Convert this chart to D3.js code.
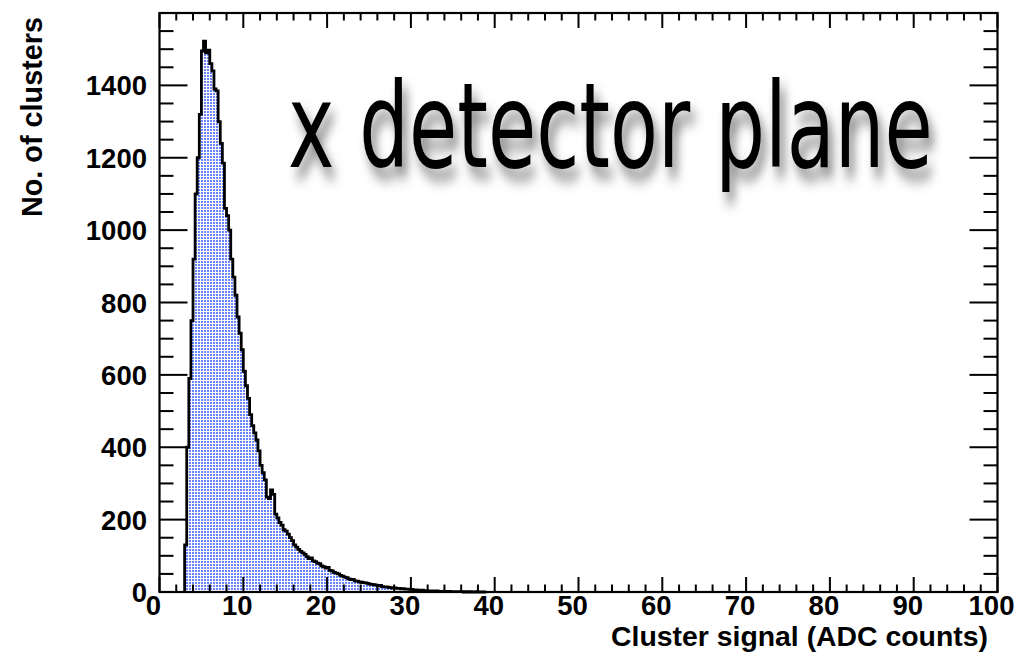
<!DOCTYPE html>
<html>
<head>
<meta charset="utf-8">
<script src="https://cdn.jsdelivr.net/npm/d3@7"></script>
<style>
  html, body { margin: 0; padding: 0; background: #ffffff; }
  svg { display: block; }
</style>
</head>
<body>
<svg id="chart" width="1017" height="662"></svg>
<script>
// ---------------- data ----------------
const binLowEdge = 3.0;      // first filled bin (ADC counts)
const binWidth = 0.25;       // bin width (ADC counts)
const counts = [
  130, 400, 590, 750, 920, 1100, 1200, 1320, 1495, 1522, 1490, 1497, 1460, 1440, 1390, 1385,
  1300, 1240, 1185, 1060, 1040, 1000, 920, 870, 820, 760, 715, 670, 610, 570, 535, 490,
  460, 440, 420, 390, 350, 330, 310, 262, 258, 282, 270, 215, 205, 192, 185, 172,
  168, 160, 150, 142, 130, 124, 118, 112, 108, 104, 98, 92, 94, 86, 84, 80,
  78, 72, 70, 66, 68, 60, 58, 54, 52, 50, 46, 44, 41, 40, 36, 34,
  35, 31, 30, 28, 27, 26, 25, 24, 22, 21, 20, 19, 17, 18, 15, 14,
  14, 13, 12, 11, 11, 10, 10, 9, 9, 8, 8, 7, 7, 6, 6, 5,
  5, 5, 4, 4, 3, 3, 3, 2, 3, 2, 2, 2, 2, 1, 2, 1,
  1, 1, 1, 1, 1, 0, 1, 0, 1, 0, 0, 1, 0, 0, 0, 0
];
const xMajorTicks = [0, 10, 20, 30, 40, 50, 60, 70, 80, 90, 100];
const yMajorTicks = [0, 200, 400, 600, 800, 1000, 1200, 1400];
const xDomain = [0, 100];
const yDomain = [0, 1600];
const xTitle = "Cluster signal (ADC counts)";
const yTitle = "No. of clusters";
const plotTitle = "x detector plane";

// ---------------- layout ----------------
const frame = { left: 159.5, right: 997.5, top: 13, bottom: 592 };
const svg = d3.select("#chart");
const x = d3.scaleLinear().domain(xDomain).range([frame.left, frame.right]);
const y = d3.scaleLinear().domain(yDomain).range([frame.bottom, frame.top]);

const defs = svg.append("defs");
const pat = defs.append("pattern")
  .attr("id", "dots").attr("patternUnits", "userSpaceOnUse")
  .attr("width", 3).attr("height", 3);
pat.append("rect").attr("width", 3).attr("height", 3).attr("fill", "#ffffff");
pat.append("rect").attr("width", 2).attr("height", 2).attr("fill", "#6a84ff");

const shadow = defs.append("filter").attr("id", "shadow")
  .attr("x", "-10%").attr("y", "-30%").attr("width", "130%").attr("height", "180%");
shadow.append("feDropShadow")
  .attr("dx", 7).attr("dy", 11).attr("stdDeviation", 7)
  .attr("flood-color", "#000").attr("flood-opacity", 0.5);

// ---------------- histogram ----------------
const pts = [{ x: binLowEdge, c: 0 }];
counts.forEach((c, i) => pts.push({ x: binLowEdge + i * binWidth, c }));
pts.push({ x: binLowEdge + counts.length * binWidth, c: 0 });

const area = d3.area()
  .x(d => x(d.x)).y0(y(0)).y1(d => y(d.c))
  .curve(d3.curveStepAfter);
const line = d3.line()
  .x(d => x(d.x)).y(d => y(d.c))
  .curve(d3.curveStepAfter);

svg.append("path").datum(pts).attr("d", area).attr("fill", "url(#dots)");
svg.append("path").datum(pts).attr("d", line)
  .attr("fill", "none").attr("stroke", "#000").attr("stroke-width", 2.8)
  .attr("stroke-linejoin", "miter");

// ---------------- axes ----------------
const font = "'Liberation Sans', Arial, Helvetica, sans-serif";
const xMinor = d3.range(0, 101, 2);
const yMinor = d3.range(0, 1601, 50);
const tickG = svg.append("g").attr("stroke", "#000").attr("stroke-width", 2);

// bottom & top
xMinor.forEach(v => {
  const major = v % 10 === 0;
  const len = major ? 15 : 7.5;
  tickG.append("line").attr("x1", x(v)).attr("x2", x(v))
    .attr("y1", frame.bottom).attr("y2", frame.bottom - len);
  tickG.append("line").attr("x1", x(v)).attr("x2", x(v))
    .attr("y1", frame.top).attr("y2", frame.top + len);
});
// left & right
yMinor.forEach(v => {
  if (y(v) < frame.top - 0.5) return;
  const major = v % 200 === 0;
  const len = major ? 28 : 14;
  tickG.append("line").attr("y1", y(v)).attr("y2", y(v))
    .attr("x1", frame.left).attr("x2", frame.left + len);
  tickG.append("line").attr("y1", y(v)).attr("y2", y(v))
    .attr("x1", frame.right).attr("x2", frame.right - len);
});

// frame
svg.append("rect")
  .attr("x", frame.left).attr("y", frame.top)
  .attr("width", frame.right - frame.left).attr("height", frame.bottom - frame.top)
  .attr("fill", "none").attr("stroke", "#000").attr("stroke-width", 2.2);

// tick labels
svg.append("g").selectAll("text").data(xMajorTicks).join("text")
  .attr("x", d => x(d) - 6).attr("y", 615)
  .attr("text-anchor", "middle")
  .attr("font-family", font).attr("font-weight", "bold").attr("font-size", 27.5)
  .text(d => d);

svg.append("g").selectAll("text").data(yMajorTicks).join("text")
  .attr("x", 147).attr("y", d => y(d) + 10)
  .attr("text-anchor", "end")
  .attr("font-family", font).attr("font-weight", "bold").attr("font-size", 27.5)
  .text(d => d);

// axis titles
svg.append("text")
  .attr("x", 988).attr("y", 646).attr("text-anchor", "end")
  .attr("font-family", font).attr("font-weight", "bold").attr("font-size", 28.4)
  .text(xTitle);

svg.append("text")
  .attr("transform", "translate(42,17) rotate(-90)")
  .attr("text-anchor", "end")
  .attr("font-family", font).attr("font-weight", "bold").attr("font-size", 28.8)
  .text(yTitle);

// big overlaid title with shadow (horizontally condensed)
svg.append("text")
  .attr("transform", "translate(288,167) scale(0.67,1)")
  .attr("font-family", "'DejaVu Sans', Verdana, sans-serif")
  .attr("font-size", 117)
  .attr("fill", "#000")
  .attr("filter", "url(#shadow)")
  .text(plotTitle);
</script>
</body>
</html>
